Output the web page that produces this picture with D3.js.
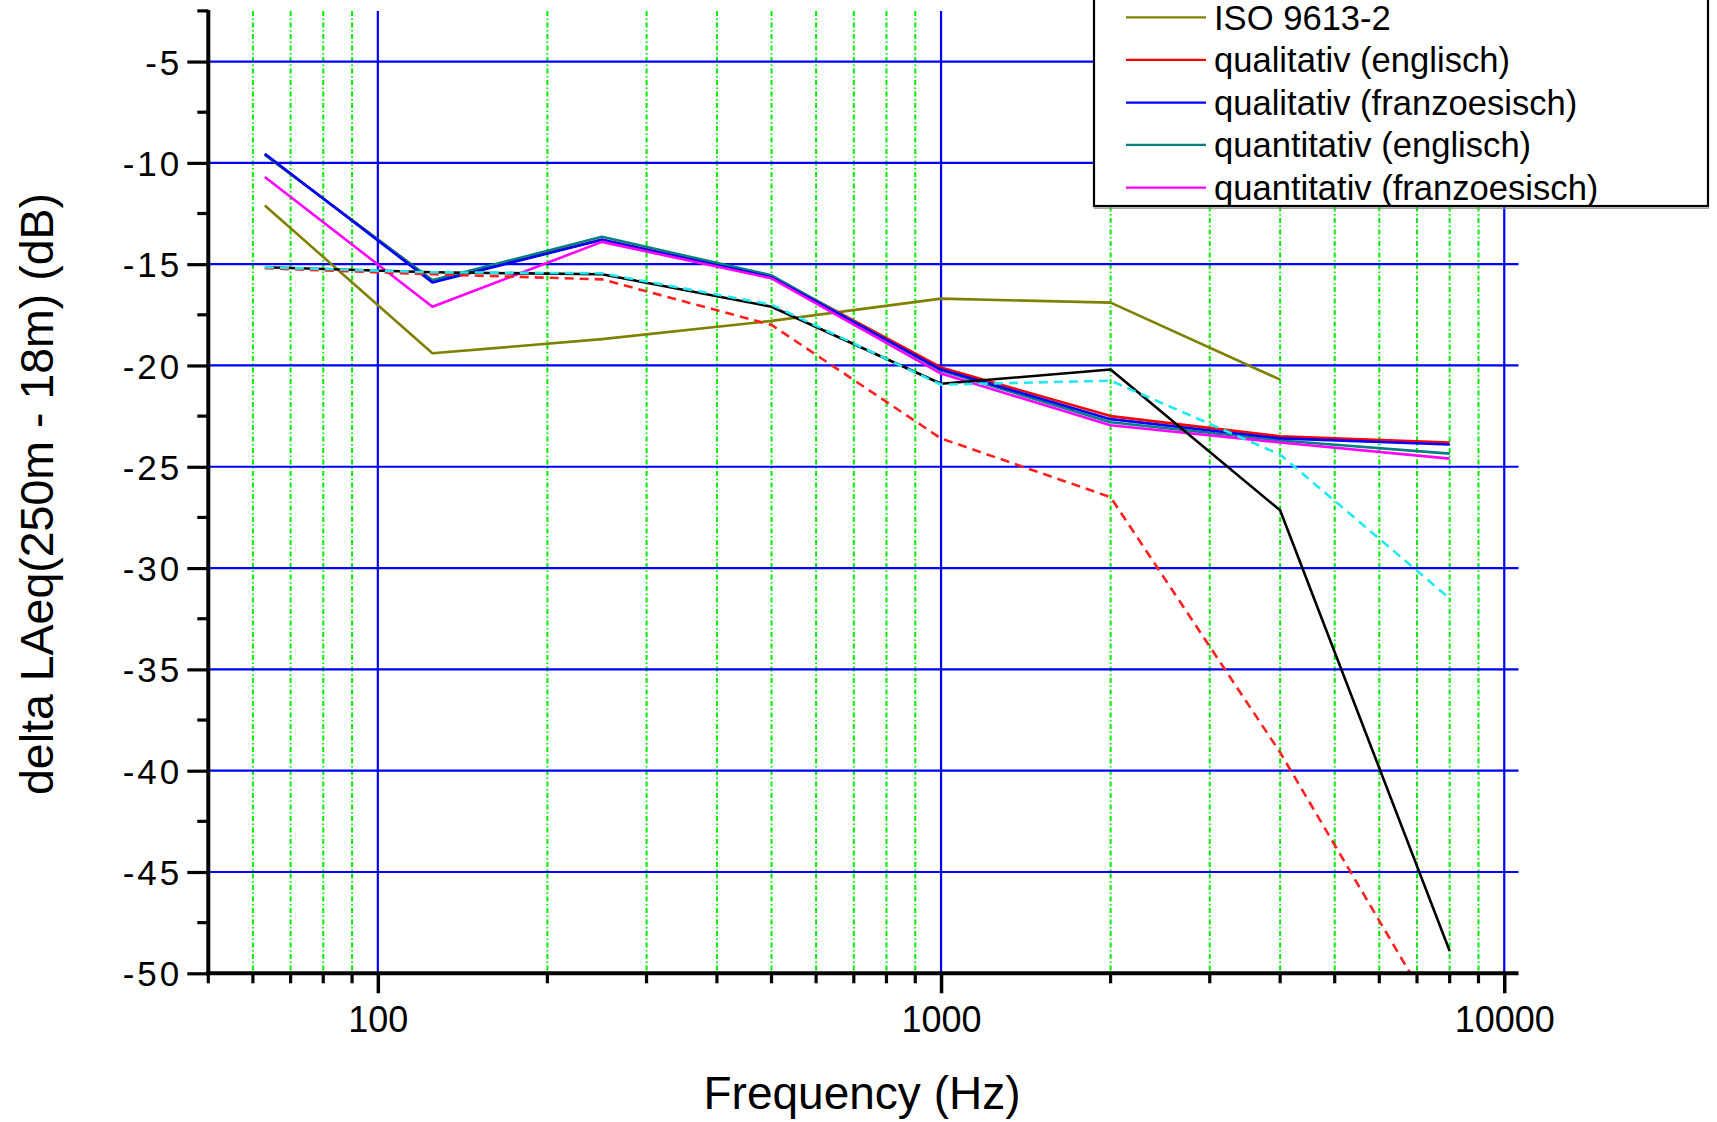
<!DOCTYPE html>
<html><head><meta charset="utf-8">
<script src="https://cdn.jsdelivr.net/npm/d3@7"></script>
<style>body{margin:0;background:#fff} svg{display:block}</style>
</head><body>
<svg id="chart" width="1717" height="1122"></svg>
<script>
// ---- data ----
const frequencies = [63, 125, 250, 500, 1000, 2000, 4000, 8000];
const isoValues            = [-12.1, -19.4, -18.7, -17.8, -16.7, -16.9, -20.7, null];
const qualEnglischValues   = [-9.6, -15.8, -13.8, -15.6, -20.1, -22.5, -23.5, -23.8];
const qualFranzValues      = [-9.55, -15.9, -13.8, -15.65, -20.2, -22.65, -23.6, -23.9];
const quantEnglischValues  = [-9.6, -15.8, -13.65, -15.55, -20.25, -22.8, -23.7, -24.35];
const quantFranzValues     = [-10.7, -17.1, -13.9, -15.7, -20.4, -22.95, -23.8, -24.6];
const blackValues          = [-15.15, -15.4, -15.5, -17.1, -20.9, -20.2, -27.15, -48.9];
const redDashedValues      = [-15.2, -15.5, -15.75, -18.0, -23.6, -26.5, -39.1, -53.3];
const cyanDashedValues     = [-15.15, -15.4, -15.45, -17.0, -20.95, -20.75, -24.4, -31.5];
const legendLabels = ["ISO 9613-2", "qualitativ (englisch)", "qualitativ (franzoesisch)", "quantitativ (englisch)", "quantitativ (franzoesisch)"];
const yTickValues = [-5, -10, -15, -20, -25, -30, -35, -40, -45, -50];
const xMajorTicks = [100, 1000, 10000];
const xTickLabels = ["100", "1000", "10000"];
const xTitle = "Frequency (Hz)";
const yTitle = "delta LAeq(250m - 18m) (dB)";

(function () {
// ---- series (styles assigned here) ----
const series = [
  {name: legendLabels[0], values: isoValues, color: "#808000", dash: null, legend: 0},
  {name: legendLabels[1], values: qualEnglischValues, color: "#ff0000", dash: null, legend: 1},
  {name: legendLabels[3], values: quantEnglischValues, color: "#008080", dash: null, legend: 3},
  {name: legendLabels[2], values: qualFranzValues, color: "#0000ff", dash: null, legend: 2},
  {name: legendLabels[4], values: quantFranzValues, color: "#ff00ff", dash: null, legend: 4},
  {name: "black", values: blackValues, color: "#000000", dash: null, legend: -1},
  {name: "red dashed", values: redDashedValues, color: "#ff2020", dash: "9,6", legend: -1},
  {name: "cyan dashed", values: cyanDashedValues, color: "#22e8f0", dash: "9,6", legend: -1}
];

const svg = d3.select("#chart");
const pL = 208.3, pR = 1518.5, pT = 10.9, pB = 973.3;
const x = d3.scaleLog().domain([50, 10600]).range([pL, pR]);
const y = d3.scaleLinear().domain([-50, -2.5]).range([pB, pT]);

const xMinor = [];
[10, 100, 1000].forEach(d => { for (let k = 2; k <= 9; k++) { const v = d * k; if (v >= 50 && v < 10000) xMinor.push(v); } });
const yMinor = d3.range(-47.5, -2.4, 5);

svg.append("defs").append("clipPath").attr("id", "plot")
  .append("rect").attr("x", pL).attr("y", pT).attr("width", pR - pL).attr("height", pB - pT);

const g = svg.append("g");
g.selectAll(".gmin").data(xMinor.filter(v => v > 50)).join("line")
  .attr("x1", d => x(d)).attr("x2", d => x(d)).attr("y1", pT).attr("y2", pB)
  .attr("stroke", "#00ee00").attr("stroke-width", 2).attr("stroke-dasharray", "5,2.5,1.5,2.5");
g.selectAll(".gmajx").data(xMajorTicks).join("line")
  .attr("x1", d => x(d)).attr("x2", d => x(d)).attr("y1", pT).attr("y2", pB)
  .attr("stroke", "#0000ff").attr("stroke-width", 2.2);
g.selectAll(".gmajy").data(yTickValues.filter(v => v > -50)).join("line")
  .attr("x1", pL).attr("x2", pR).attr("y1", d => y(d)).attr("y2", d => y(d))
  .attr("stroke", "#0000ff").attr("stroke-width", 2.2);

const line = d3.line().defined(d => d[1] !== null).x(d => x(d[0])).y(d => y(d[1]));
const lg = svg.append("g").attr("clip-path", "url(#plot)");
series.forEach(s => {
  lg.append("path").datum(frequencies.map((f, i) => [f, s.values[i]]))
    .attr("d", line).attr("fill", "none").attr("stroke", s.color)
    .attr("stroke-width", 2.6).attr("stroke-linejoin", "round")
    .attr("stroke-dasharray", s.dash);
});

const ax = svg.append("g");
const yAxis = d3.axisLeft(y).tickValues(yTickValues).tickSize(21).tickFormat(d => String(d));
const yA = ax.append("g").attr("transform", `translate(${pL},0)`).call(yAxis);
yA.select(".domain").remove();
yA.selectAll(".tick line").attr("stroke", "#000").attr("stroke-width", 3.2);
yA.selectAll(".tick text").attr("font-family", "'Liberation Sans', Arial, sans-serif")
  .attr("font-size", 35).attr("letter-spacing", 3).attr("fill", "#000").attr("x", -26).attr("dy", "0.36em");
ax.selectAll(".ymin").data(yMinor).join("line")
  .attr("x1", pL - 11).attr("x2", pL).attr("y1", d => y(d)).attr("y2", d => y(d))
  .attr("stroke", "#000").attr("stroke-width", 3.2);

const xAxis = d3.axisBottom(x).tickValues(xMajorTicks).tickSize(20).tickFormat((d, i) => xTickLabels[i]);
const xA = ax.append("g").attr("transform", `translate(0,${pB})`).call(xAxis);
xA.select(".domain").remove();
xA.selectAll(".tick line").attr("stroke", "#000").attr("stroke-width", 3.5);
xA.selectAll(".tick text").attr("font-family", "'Liberation Sans', Arial, sans-serif")
  .attr("font-size", 36).attr("fill", "#000").attr("y", 33).attr("dy", "0.71em");
ax.selectAll(".xmin").data(xMinor).join("line")
  .attr("x1", d => x(d)).attr("x2", d => x(d)).attr("y1", pB).attr("y2", pB + 10)
  .attr("stroke", "#000").attr("stroke-width", 3.2);

ax.append("line").attr("x1", pL).attr("x2", pL).attr("y1", pT - 1).attr("y2", pB + 2)
  .attr("stroke", "#000").attr("stroke-width", 4);
ax.append("line").attr("x1", pL - 2).attr("x2", pR).attr("y1", pB).attr("y2", pB)
  .attr("stroke", "#000").attr("stroke-width", 4);

svg.append("text").attr("x", 862).attr("y", 1109).attr("text-anchor", "middle")
  .attr("font-family", "'Liberation Sans', Arial, sans-serif").attr("font-size", 46).text(xTitle);
svg.append("text").attr("transform", "translate(53,494) rotate(-90)").attr("text-anchor", "middle")
  .attr("font-family", "'Liberation Sans', Arial, sans-serif").attr("font-size", 46.5).text(yTitle);

const leg = svg.append("g");
leg.append("rect").attr("x", 1094).attr("y", -200).attr("width", 1708 - 1094).attr("height", 206 + 200)
  .attr("fill", "#fff").attr("stroke", "#000").attr("stroke-width", 2.2);
leg.append("line").attr("x1", 1094).attr("x2", 1709).attr("y1", 208.2).attr("y2", 208.2)
  .attr("stroke", "#888").attr("stroke-width", 1.2);
const legendY = [17.3, 59.8, 102.7, 144.8, 187.7];
series.filter(s => s.legend >= 0).forEach(s => {
  const yy = legendY[s.legend];
  leg.append("line").attr("x1", 1126).attr("x2", 1206).attr("y1", yy).attr("y2", yy)
    .attr("stroke", s.color).attr("stroke-width", 2.2);
  leg.append("text").attr("x", 1214).attr("y", yy).attr("dy", "0.36em")
    .attr("font-family", "'Liberation Sans', Arial, sans-serif").attr("font-size", 34.6).attr("fill", "#000")
    .text(s.name);
});
})();
</script>
</body></html>
